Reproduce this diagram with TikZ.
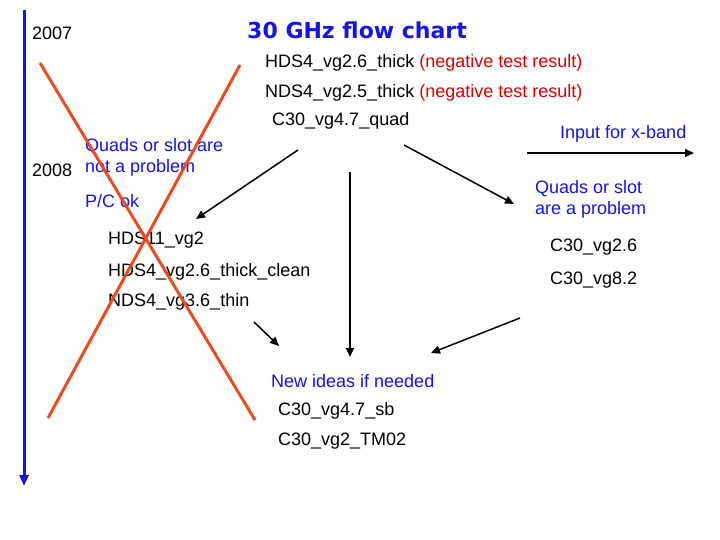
\documentclass[tikz,border=0pt]{standalone}
\usepackage{fontspec}
\setmainfont{Liberation Sans}
\newfontfamily\titlefont{DejaVu Sans}
\usetikzlibrary{arrows.meta}
\definecolor{tblue}{RGB}{20,20,230}
\definecolor{tred}{RGB}{220,0,0}
\definecolor{xred}{RGB}{235,75,30}
\begin{document}
\begin{tikzpicture}[x=1pt,y=-1pt,
  txt/.style={anchor=west,inner sep=0pt,font=\fontsize{18}{20}\selectfont},
  btxt/.style={txt,text=tblue},
  arr/.style={draw,line width=1.5pt,-{Triangle[length=9pt,width=8pt]}}]
\useasboundingbox (0,0) rectangle (720,540);
\coordinate (t0) at (24,10); \coordinate (t1) at (24,486);
\draw[tblue,line width=3pt,-{Triangle[length=11pt,width=9pt]}] (t0) -- (t1);
\node[txt] (y7) at (32,33) {2007};
\node[txt] (y8) at (32,170) {2008};
\node[anchor=center,text=tblue,font=\titlefont\bfseries\fontsize{22}{24}\selectfont] (title) at (357,30) {30 GHz flow chart};
\node[txt] (a1) at (265,63) {HDS4\_vg2.6\_thick \textcolor{tred}{(negative test result)}};
\node[txt] (a2) at (265,93) {NDS4\_vg2.5\_thick \textcolor{tred}{(negative test result)}};
\node[txt] (a3) at (272,121) {C30\_vg4.7\_quad};
\node[btxt] (xb) at (560,134) {Input for x-band};
\coordinate (xa0) at (527,153); \coordinate (xa1) at (694,153);
\draw[arr] (xa0) -- (xa1);
\node[btxt] (q1) at (85,147) {Quads or slot are};
\node[btxt] (q2) at (85,168) {not a problem};
\node[btxt] (pc) at (85,201) {P/C ok};
\node[btxt] (q3) at (535,189) {Quads or slot};
\node[btxt] (q4) at (535,210) {are a problem};
\node[txt] (h1) at (108,240) {HDS11\_vg2};
\node[txt] (h2) at (108,272) {HDS4\_vg2.6\_thick\_clean};
\node[txt] (h3) at (108,302) {NDS4\_vg3.6\_thin};
\node[txt] (c1) at (550,247) {C30\_vg2.6};
\node[txt] (c2) at (550,280) {C30\_vg8.2};
\node[btxt] (n1) at (271,381) {New ideas if needed};
\node[txt] (n2) at (278,411) {C30\_vg4.7\_sb};
\node[txt] (n3) at (278,441) {C30\_vg2\_TM02};
\coordinate (p1) at (298,150); \coordinate (p1e) at (196,219);
\coordinate (p2) at (350,172); \coordinate (p2e) at (350,357);
\coordinate (p3) at (404,145); \coordinate (p3e) at (514,204);
\coordinate (p4) at (254,322); \coordinate (p4e) at (279,346);
\coordinate (p5) at (520,318); \coordinate (p5e) at (431,353);
\draw[arr] (p1) -- (p1e);
\draw[arr] (p2) -- (p2e);
\draw[arr] (p3) -- (p3e);
\draw[arr] (p4) -- (p4e);
\draw[arr] (p5) -- (p5e);
\coordinate (x1) at (40,63); \coordinate (x2) at (255,420);
\coordinate (x3) at (240,65); \coordinate (x4) at (48,418);
\draw[xred,line width=3pt] (x1) -- (x2);
\draw[xred,line width=3pt] (x3) -- (x4);
\end{tikzpicture}
\end{document}
